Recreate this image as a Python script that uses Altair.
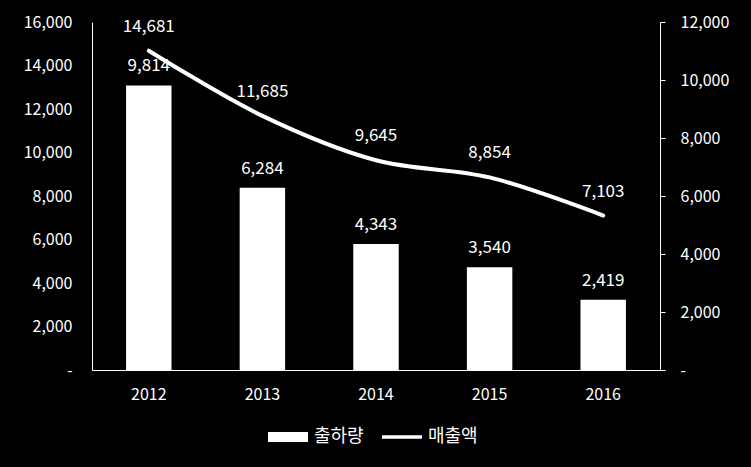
import altair as alt
import pandas as pd

years = ["2012", "2013", "2014", "2015", "2016"]
shipments = [9814, 6284, 4343, 3540, 2419]   # 출하량 (bars, right axis)
sales = [14681, 11685, 9645, 8854, 7103]     # 매출액 (line, left axis)
series_names = ["출하량", "매출액"]

df = pd.DataFrame({"year": years, "ship": shipments, "sales": sales})
leg_df = pd.DataFrame({"series": series_names})

FONT = "Malgun Gothic, Noto Sans CJK KR, sans-serif"

x = alt.X("year:N", title=None, sort=years,
          scale=alt.Scale(paddingInner=0.6, paddingOuter=0.3),
          axis=alt.Axis(labelAngle=0, ticks=False, domainColor="white",
                        labelColor="white", labelFontSize=16, labelPadding=16,
                        labelFont=FONT))

zero_dash = "datum.value == 0 ? '-' : format(datum.value, ',')"

y_right = alt.Y("ship:Q", title=None,
                scale=alt.Scale(domain=[0, 12000]),
                axis=alt.Axis(orient="right", values=list(range(0, 12001, 2000)),
                              labelExpr=zero_dash, grid=False, ticks=True, tickSize=5,
                              tickColor="white", domainColor="white",
                              labelColor="white", labelFontSize=16, labelPadding=15,
                              labelFont=FONT))
y_left = alt.Y("sales:Q", title=None,
               scale=alt.Scale(domain=[0, 16000]),
               axis=alt.Axis(orient="left", values=list(range(0, 16001, 2000)),
                             labelExpr=zero_dash, grid=False, ticks=False,
                             domainColor="white", labelColor="white",
                             labelFontSize=16, labelPadding=20, labelFont=FONT))

bars = alt.Chart(df).mark_bar(color="white").encode(x=x, y=y_right)
bar_text = alt.Chart(df).mark_text(color="white", fontSize=17, dy=-19, font=FONT).encode(
    x=x, y=y_right, text=alt.Text("ship:Q", format=","),
)
bar_layer = alt.layer(bars, bar_text)

line = alt.Chart(df).mark_line(color="white", strokeWidth=4, interpolate="catmull-rom",
                               strokeCap="round").encode(
    x=x, y=y_left,
)
line_text = alt.Chart(df).mark_text(color="white", fontSize=17, dy=-24, font=FONT).encode(
    x=x, y=y_left, text=alt.Text("sales:Q", format=","),
)
legend_pts = alt.Chart(leg_df).mark_point(opacity=0, size=1600, filled=True, color="white").encode(
    x=alt.value(0),
    y=alt.value(0),
    shape=alt.Shape("series:N", sort=series_names,
                    scale=alt.Scale(domain=series_names,
                                    range=["M-1,-0.25L1,-0.25L1,0.25L-1,0.25Z",
                                           "M-1,-0.09L1,-0.09L1,0.09L-1,0.09Z"]),
                    legend=alt.Legend(title=None, orient="none", direction="horizontal",
                                      legendX=176, legendY=395,
                                      symbolSize=1600, symbolOpacity=1,
                                      symbolFillColor="white", symbolStrokeColor="white",
                                      symbolStrokeWidth=0, labelColor="white",
                                      labelFontSize=18, labelFont=FONT, labelOffset=6,
                                      columnPadding=18)),
)
line_layer = alt.layer(line, line_text, legend_pts)

chart = alt.layer(bar_layer, line_layer).resolve_scale(
    y="independent", shape="independent"
).properties(
    width=568, height=348,
    autosize="none",
    padding={"left": 92, "top": 22, "right": 91, "bottom": 97},
    background="black",
).configure_view(stroke=None)

chart.save("out.html", embed_options={"renderer": "svg", "actions": False})
